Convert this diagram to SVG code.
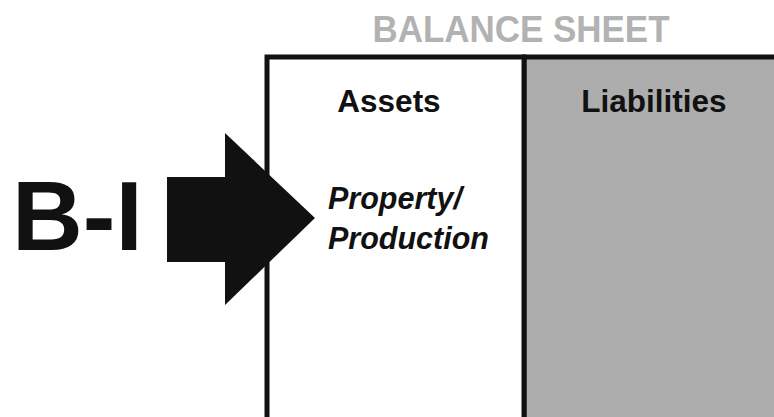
<svg xmlns="http://www.w3.org/2000/svg" width="774" height="417" viewBox="0 0 774 417">
<style>
text{font-family:"Liberation Sans",Arial,sans-serif;font-weight:bold}
.lbl{font-size:31.5px;fill:#111}
.it{font-size:30.5px;font-style:italic;fill:#111}
</style>
<rect width="774" height="417" fill="#fff"/>
<g id="title"><text x="521" y="42" font-size="36" fill="#b2b2b2" text-anchor="middle" textLength="297" lengthAdjust="spacingAndGlyphs">BALANCE SHEET</text></g>
<g id="liabilities">
<rect x="524" y="57" width="260" height="370" fill="#adadad" stroke="#111" stroke-width="5"/>
<text class="lbl" x="654" y="112" text-anchor="middle">Liabilities</text>
</g>
<g id="assets">
<rect x="267" y="57" width="257" height="370" fill="#fff" stroke="#111" stroke-width="5"/>
<text class="lbl" x="389" y="112" text-anchor="middle">Assets</text>
<text class="it" x="328" y="209">Property/</text>
<text class="it" x="328" y="249">Production</text>
</g>
<g id="bi"><text x="12" y="250" font-size="98" fill="#111">B-I</text></g>
<g id="connectors">
<polygon points="167,177 225,177 225,133 315,218 225,305 225,262 167,262" fill="#111"/>
</g>
</svg>
